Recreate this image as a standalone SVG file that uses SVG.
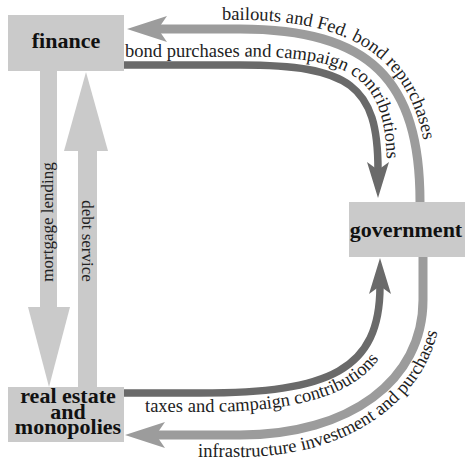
<svg xmlns="http://www.w3.org/2000/svg" width="465" height="459" viewBox="0 0 465 459">
  <style>
    .box{fill:#cacaca}
    .node-label{font-family:"Liberation Serif","DejaVu Serif",serif;font-weight:bold;font-size:22px;fill:#111;text-anchor:middle}
    .flow-label{font-family:"Liberation Serif","DejaVu Serif",serif;font-size:17px;fill:#222}
    .arc-label{font-size:18.5px}
    .light{fill:#cacaca}
    .gray{fill:none;stroke:#9c9c9c;stroke-width:9;marker-end:url(#headGray)}
    .dark{fill:none;stroke:#6a6a6a;stroke-width:7.5;marker-end:url(#headDark)}
    .guide{fill:none;stroke:none}
  </style>
  <defs>
    <marker id="headGray" markerUnits="userSpaceOnUse" orient="auto" refX="0" refY="0" markerWidth="80" markerHeight="40" overflow="visible">
      <path d="M-9,-13 L31,0 L-9,13 L0,0 Z" fill="#9c9c9c"/>
    </marker>
    <marker id="headDark" markerUnits="userSpaceOnUse" orient="auto" refX="0" refY="0" markerWidth="80" markerHeight="40" overflow="visible">
      <path d="M-8,-11 L28,0 L-8,11 L0,0 Z" fill="#6a6a6a"/>
    </marker>
    <!-- baselines for the labels that follow the curved flows -->
    <path id="pBailouts" class="guide" d="M222,20 L240,20 C376,20 429,76 429,202"/>
    <path id="pBonds" class="guide" d="M124,56.5 L240,56.5 C358,56.5 387,78 387,172"/>
    <path id="pTaxes" class="guide" d="M124,412 L200,412 C340,412 399,378 399,286"/>
    <path id="pInfra" class="guide" d="M167,457 L240,457 C356,457 441,392 441,300"/>
  </defs>

  <g id="connectors">
    <!-- finance -> real estate: mortgage lending -->
    <g id="mortgage-lending">
      <rect class="light" x="40" y="71" width="17" height="240"/>
      <polygon class="light" points="28,307 70,307 49,387"/>
      <text class="flow-label" text-anchor="middle" transform="translate(53,222) rotate(-90)">mortgage lending</text>
    </g>
    <!-- real estate -> finance: debt service -->
    <g id="debt-service">
      <rect class="light" x="78" y="148" width="19" height="239"/>
      <polygon class="light" points="64,151 108,151 86,72"/>
      <text class="flow-label" text-anchor="middle" transform="translate(82,241) rotate(90)">debt service</text>
    </g>
    <!-- government -> finance -->
    <g id="bailouts">
      <path class="gray" d="M420,202 C420,80 370,29 240,29 L158,29"/>
      <text class="flow-label arc-label"><textPath href="#pBailouts">bailouts and Fed. bond repurchases</textPath></text>
    </g>
    <!-- finance -> government -->
    <g id="bond-purchases">
      <path class="dark" d="M124,65 L240,65 C350,65 378,85 378,170"/>
      <text class="flow-label arc-label"><textPath href="#pBonds" startOffset="1">bond purchases and campaign contributions</textPath></text>
    </g>
    <!-- real estate -> government -->
    <g id="taxes">
      <path class="dark" d="M124,393 L200,393 C330,393 380,370 380,286"/>
      <text class="flow-label arc-label"><textPath href="#pTaxes" startOffset="21">taxes and campaign contributions</textPath></text>
    </g>
    <!-- government -> real estate -->
    <g id="infrastructure">
      <path class="gray" d="M423,257 L423,300 C423,380 350,435 240,435 L156,435"/>
      <text class="flow-label arc-label"><textPath href="#pInfra" startOffset="31">infrastructure investment and purchases</textPath></text>
    </g>
  </g>

  <g id="finance">
    <rect class="box" x="8" y="15" width="116" height="56"/>
    <text class="node-label" x="66" y="48">finance</text>
  </g>
  <g id="government">
    <rect class="box" x="349" y="202" width="116" height="55"/>
    <text class="node-label" x="406" y="237">government</text>
  </g>
  <g id="real-estate">
    <rect class="box" x="8" y="387" width="116" height="55"/>
    <text class="node-label" x="68" y="403">real estate</text>
    <text class="node-label" x="68" y="419">and</text>
    <text class="node-label" x="68" y="434">monopolies</text>
  </g>
</svg>
